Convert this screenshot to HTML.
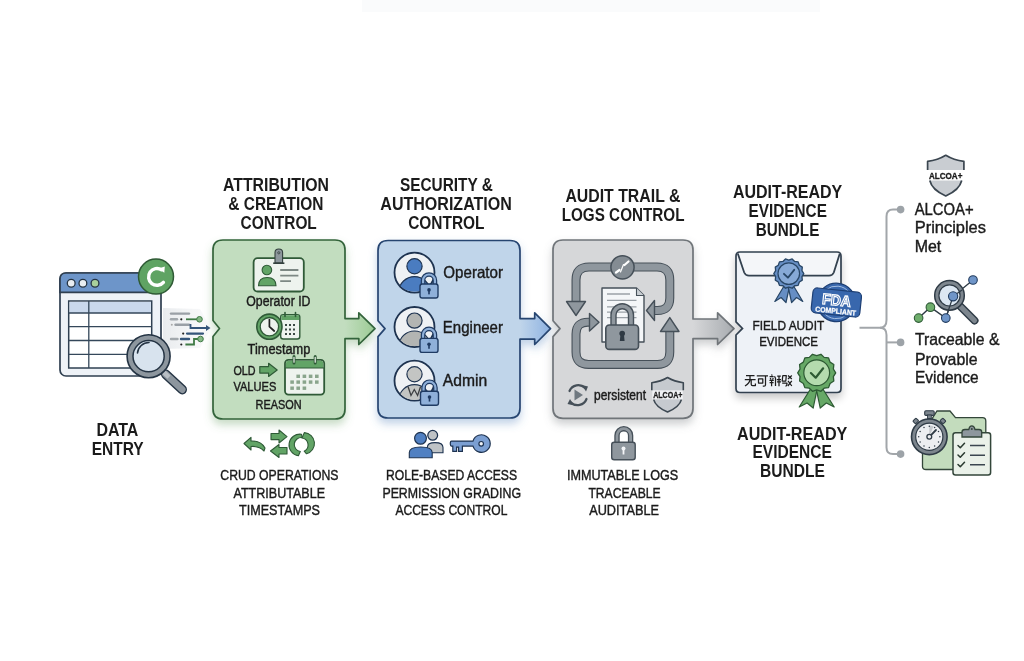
<!DOCTYPE html><html><head><meta charset="utf-8"><style>
html,body{margin:0;padding:0;background:#fff;}
body{width:1024px;height:661px;overflow:hidden;}
svg{display:block;font-family:"Liberation Sans",sans-serif;will-change:transform;}
</style></head><body>
<svg width="1024" height="661" viewBox="0 0 1024 661">
<defs>
<filter id="sh" x="-20%" y="-20%" width="140%" height="150%">
  <feGaussianBlur in="SourceAlpha" stdDeviation="4"/>
  <feOffset dy="5"/>
  <feComponentTransfer><feFuncA type="linear" slope="0.22"/></feComponentTransfer>
  <feMerge><feMergeNode/><feMergeNode in="SourceGraphic"/></feMerge>
</filter>
<filter id="shg" x="-20%" y="-20%" width="140%" height="150%">
  <feGaussianBlur in="SourceAlpha" stdDeviation="4.5"/>
  <feOffset dy="5" result="b"/>
  <feFlood flood-color="#5f9a5a" flood-opacity="0.35"/>
  <feComposite in2="b" operator="in"/>
  <feMerge><feMergeNode/><feMergeNode in="SourceGraphic"/></feMerge>
</filter>
<filter id="shb" x="-20%" y="-20%" width="140%" height="150%">
  <feGaussianBlur in="SourceAlpha" stdDeviation="4.5"/>
  <feOffset dy="5" result="b"/>
  <feFlood flood-color="#4f7fba" flood-opacity="0.35"/>
  <feComposite in2="b" operator="in"/>
  <feMerge><feMergeNode/><feMergeNode in="SourceGraphic"/></feMerge>
</filter>
<filter id="shy" x="-20%" y="-20%" width="140%" height="150%">
  <feGaussianBlur in="SourceAlpha" stdDeviation="4.5"/>
  <feOffset dy="5" result="b"/>
  <feFlood flood-color="#70757a" flood-opacity="0.35"/>
  <feComposite in2="b" operator="in"/>
  <feMerge><feMergeNode/><feMergeNode in="SourceGraphic"/></feMerge>
</filter>
<linearGradient id="gArr" gradientUnits="userSpaceOnUse" x1="345" y1="0" x2="375" y2="0"><stop offset="0" stop-color="#c2ddbf"/><stop offset="1" stop-color="#9ccb94"/></linearGradient>
<linearGradient id="bArr" gradientUnits="userSpaceOnUse" x1="520" y1="0" x2="550" y2="0"><stop offset="0" stop-color="#c0d5ea"/><stop offset="1" stop-color="#8fb3e2"/></linearGradient>
<linearGradient id="yArr" gradientUnits="userSpaceOnUse" x1="693" y1="0" x2="734" y2="0"><stop offset="0" stop-color="#d6d7d9"/><stop offset="1" stop-color="#a8acb0"/></linearGradient>
</defs>
<path d="M223 240 H335 Q345 240 345 250 V318.6 H358.8 V312.8 L375 328.65 L358.8 344.5 V338.7 H345 V409 Q345 419 335 419 H223 Q213 419 213 409 V336.5 L219.5 328.5 L213 320.5 V250 Q213 240 223 240 Z" fill="url(#gArr)" stroke="#33633a" stroke-width="1.7" stroke-linejoin="round" filter="url(#shg)"/>
<path d="M388 240.5 H510 Q520 240.5 520 250.5 V318.6 H534.7 V312.8 L550.5 328.65 L534.7 344.5 V339.2 H520 V408 Q520 418 510 418 H388 Q378 418 378 408 V336.6 L385 328.65 L378 320.7 V250.5 Q378 240.5 388 240.5 Z" fill="url(#bArr)" stroke="#264470" stroke-width="1.7" stroke-linejoin="round" filter="url(#shb)"/>
<path d="M563 240 H683 Q693 240 693 250 V319 H717.6 V312.8 L734 328.65 L717.6 344.5 V338.7 H693 V408.3 Q693 418.3 683 418.3 H563 Q553 418.3 553 408.3 V336.6 L560 328.65 L553 320.7 V250 Q553 240 563 240 Z" fill="url(#yArr)" stroke="#6f7479" stroke-width="1.7" stroke-linejoin="round" filter="url(#shy)"/>
<rect x="362" y="0" width="458" height="12" fill="#fafbfc"/>
<g>
<linearGradient id="stg" x1="0" x2="1"><stop offset="0" stop-color="#e6e9ec" stop-opacity="0.9"/><stop offset="1" stop-color="#eef0f2" stop-opacity="0.3"/></linearGradient><path d="M163 308 L200 309 L211 328.5 L200 348 L163 349 Z" fill="url(#stg)"/>
<path d="M171 313.6 H189" stroke="#9aa0a6" stroke-width="2.4" stroke-linecap="round"/>
<path d="M171 319.3 H177" stroke="#a2a8ad" stroke-width="2.4" stroke-linecap="round"/>
<circle cx="181.3" cy="319.3" r="1.1" fill="#222"/>
<path d="M186 319.3 H197" stroke="#3f7a45" stroke-width="1.8"/>
<circle cx="199.5" cy="319.3" r="2.8" fill="#86b886" stroke="#3f7a45" stroke-width="1"/>
<circle cx="171.8" cy="324.8" r="1" fill="#aaa"/>
<path d="M175.5 324.8 H189" stroke="#9aa0a6" stroke-width="2.4" stroke-linecap="round"/>
<path d="M190.5 324 V328 H207" stroke="#34557a" stroke-width="1.8" fill="none"/>
<path d="M206 325 L210.5 328 L206 331 Z" fill="#34557a"/>
<circle cx="183.2" cy="333.6" r="1.1" fill="#222"/>
<path d="M187 333.6 H203" stroke="#34557a" stroke-width="2.2" stroke-linecap="round"/>
<path d="M171 339 H177.5" stroke="#a2a8ad" stroke-width="2.4" stroke-linecap="round"/>
<path d="M181 339 H189" stroke="#34557a" stroke-width="2.4" stroke-linecap="round"/>
<path d="M185.4 344.5 H194 V339 H198" stroke="#3f7a45" stroke-width="1.8" fill="none"/>
<circle cx="200.5" cy="339" r="2.8" fill="#86b886" stroke="#3f7a45" stroke-width="1"/>
<circle cx="181.3" cy="344.5" r="1.1" fill="#222"/>
</g>
<g>
<rect x="60" y="273" width="101" height="103" rx="6" fill="#eef2f7" stroke="#2f3f50" stroke-width="1.7"/>
<path d="M66 273 H155 Q161 273 161 279 V292.4 H60 V279 Q60 273 66 273 Z" fill="#6d95c9" stroke="#2f3f50" stroke-width="1.7"/>
<circle cx="71.2" cy="283.3" r="3.9" fill="#e9eef2" stroke="#253444" stroke-width="1.3"/>
<circle cx="82.9" cy="283.3" r="3.9" fill="#e9eef2" stroke="#253444" stroke-width="1.3"/>
<circle cx="95" cy="283.3" r="3.9" fill="#a9d09b" stroke="#253444" stroke-width="1.3"/>
<rect x="68.7" y="301" width="83" height="67" fill="#ffffff" stroke="#2f4052" stroke-width="1.5"/>
<rect x="69.6" y="301.9" width="81.2" height="11.1" fill="#c9d8ec"/>
<path d="M68.7 313 H151.7 M68.7 326.6 H151.7 M68.7 340.5 H151.7 M68.7 354.4 H151.7 M88.8 301 V368" stroke="#34475a" stroke-width="1.3" fill="none"/>
</g>
<g>
<circle cx="156" cy="276.6" r="17.5" fill="#5fa363" stroke="#2f5a35" stroke-width="1.5"/>
<path d="M161.5 269.8 A8.4 8.4 0 1 0 163.4 282.3" fill="none" stroke="#ffffff" stroke-width="3.4" stroke-linecap="round"/>
<path d="M158.5 268.4 L164.8 266.4 L164.3 272.8 Z" fill="#ffffff"/>
</g>
<g>
<path d="M165.7 374.2 L182.2 389.6" stroke="#253444" stroke-width="9.6" stroke-linecap="round"/>
<path d="M165.7 374.2 L182.2 389.6" stroke="#8d969e" stroke-width="6.8" stroke-linecap="round"/>
<path d="M164 372.5 L169 377.2" stroke="#b8bec4" stroke-width="4.5"/>
<circle cx="148.6" cy="356.2" r="21.5" fill="#8d969e" stroke="#253444" stroke-width="1.6"/>
<circle cx="148.6" cy="356.2" r="15.6" fill="#d8e3ee" stroke="#253444" stroke-width="1.5"/>
<path d="M137.5 353 A11.5 11.5 0 0 1 149 342.5" fill="none" stroke="#253444" stroke-width="1.6" stroke-linecap="round"/>
</g>
<g>
<rect x="253.6" y="258.2" width="50.2" height="33.3" rx="4" fill="#eef3ee" stroke="#2f5a37" stroke-width="1.8"/>
<path d="M275 263 V252.5 Q275 249 278.8 249 Q282.6 249 282.6 252.5 V263 Z" fill="#8d979c" stroke="#33403d" stroke-width="1.1"/>
<path d="M273.2 263.2 H284.4" stroke="#33403d" stroke-width="1.6"/>
<circle cx="278.8" cy="252.8" r="1.1" fill="none" stroke="#33403d" stroke-width="0.8"/>
<circle cx="266.9" cy="270" r="4.8" fill="#62a466" stroke="#2f5a37" stroke-width="1.1"/>
<path d="M258.5 285.8 Q258.5 277.5 267.2 277.5 Q276 277.5 276 285.8 Z" fill="#62a466" stroke="#2f5a37" stroke-width="1.1"/>
<path d="M280.2 270 H298.4 M280.2 275.7 H298.4 M280.2 281.2 H291" stroke="#7d8884" stroke-width="1.8"/>
</g>
<g>
<rect x="280.7" y="314.6" width="19.1" height="24.4" rx="2.5" fill="#eef3ee" stroke="#2f5a37" stroke-width="1.4"/>
<path d="M281.4 315.3 H299.1 V320 H281.4 Z" fill="#62a466"/>
<path d="M285 312.5 V316.5 M295.5 312.5 V316.5" stroke="#2f5a37" stroke-width="1.6" stroke-linecap="round"/>
<g fill="#3c4a44">
<rect x="285" y="324" width="2" height="2"/><rect x="289" y="324" width="2" height="2"/><rect x="293" y="324" width="2" height="2"/>
<rect x="285" y="328.5" width="2" height="2"/><rect x="289" y="328.5" width="2" height="2"/><rect x="293" y="328.5" width="2" height="2"/>
<rect x="285" y="333" width="2" height="2"/><rect x="289" y="333" width="2" height="2"/><rect x="293" y="333" width="2" height="2"/>
</g>
<circle cx="269.4" cy="326.7" r="12.6" fill="#62a466" stroke="#2f5a37" stroke-width="1.6"/>
<circle cx="269.4" cy="326.7" r="9.2" fill="#eef3ee" stroke="#2f5a37" stroke-width="1.3"/>
<path d="M269.4 319.5 V326.7 L274.2 331" fill="none" stroke="#222" stroke-width="1.7" stroke-linecap="round"/>
</g>
<path d="M259.8 366.6 H268.6 V363.3 L277.2 369.9 L268.6 376.4 V373.1 H259.8 Z" fill="#62a466" stroke="#2f5a37" stroke-width="1.2" stroke-linejoin="round"/>
<g>
<rect x="285" y="359.8" width="39.2" height="34.8" rx="3.5" fill="#eef3ee" stroke="#2f5a37" stroke-width="1.8"/>
<path d="M286 368 V363.3 Q286 360.8 288.5 360.8 H320.7 Q323.2 360.8 323.2 363.3 V368 Z" fill="#62a466"/>
<path d="M285 368 H324.2" stroke="#2f5a37" stroke-width="1.2"/>
<path d="M294 356.5 V363 M315.2 356.5 V363" stroke="#2f5a37" stroke-width="3" stroke-linecap="round"/>
<path d="M294 357.3 V362.2 M315.2 357.3 V362.2" stroke="#eef3ee" stroke-width="1.2" stroke-linecap="round"/>
<g fill="#8aa58c">
<rect x="296.4" y="374.6" width="3.6" height="3.4"/><rect x="302.6" y="374.6" width="3.6" height="3.4"/><rect x="308.8" y="374.6" width="3.6" height="3.4"/><rect x="315" y="374.6" width="3.6" height="3.4"/>
<rect x="290.3" y="380.4" width="3.6" height="3.4"/><rect x="296.4" y="380.4" width="3.6" height="3.4"/><rect x="302.6" y="380.4" width="3.6" height="3.4"/><rect x="308.8" y="380.4" width="3.6" height="3.4"/><rect x="315" y="380.4" width="3.6" height="3.4"/>
<rect x="290.3" y="386.5" width="3.6" height="3.4"/><rect x="296.4" y="386.5" width="3.6" height="3.4"/><rect x="302.6" y="386.5" width="3.6" height="3.4"/>
</g>
</g>
<g fill="#62a466" stroke="#2f5a37" stroke-width="1.1" stroke-linejoin="round">
<path d="M244 443.5 L251 437.3 V441 Q261 440.5 265 448 L264 451 Q259 445.8 251 446.5 V450 Z"/>
<path d="M271 433.5 H279 V430 L287 436.6 L279 443 V439.6 H271 Z"/>
<path d="M287 447.5 H279 V444.5 L270.5 451 L279 457.5 V454 H287 Z"/>
<path d="M301.5 434.2 A10.4 10.4 0 0 0 298.4 455.8 L300.3 451.5 A7 7 0 0 1 302.2 437.6 Z"/>
<path d="M304.3 432.6 A10.8 10.8 0 0 1 306.5 453.8 L304.2 451.2 A7 7 0 0 0 302 438 Z"/>
</g>
<g>
<clipPath id="cl272"><circle cx="414.5" cy="272.6" r="19.2"/></clipPath>
<circle cx="414.5" cy="272.6" r="20" fill="#eef1f4" stroke="#1e3350" stroke-width="1.8"/>
<g clip-path="url(#cl272)">
<ellipse cx="414.5" cy="291.6" rx="15.5" ry="15" fill="#4a7cc0" stroke="#1e3350" stroke-width="1.2"/>
</g>
<circle cx="414.5" cy="266.20000000000005" r="7.6" fill="#4a7cc0" stroke="#1e3350" stroke-width="1.2"/>
</g>
<g>
<path d="M423.06 285 V280.44 A5.94 5.94 0 0 1 434.94 280.44 V285" fill="none" stroke="#1f3b63" stroke-width="4.6"/>
<path d="M423.06 285 V280.44 A5.94 5.94 0 0 1 434.94 280.44 V285" fill="none" stroke="#8fb0d9" stroke-width="2.2"/>
<rect x="420" y="284" width="18" height="14" rx="2.2" fill="#8fb0d9" stroke="#1f3b63" stroke-width="1.4"/>
<circle cx="429.0" cy="289.88" r="1.8" fill="#1f3b63"/>
<rect x="428.19" y="289.88" width="1.6199999999999999" height="4.48" fill="#1f3b63"/>
</g>
<g>
<clipPath id="cl327"><circle cx="414.5" cy="327" r="19.2"/></clipPath>
<circle cx="414.5" cy="327" r="20" fill="#eef1f4" stroke="#1e3350" stroke-width="1.8"/>
<g clip-path="url(#cl327)">
<ellipse cx="414.5" cy="346" rx="15.5" ry="15" fill="#b3b5b3" stroke="#1e3350" stroke-width="1.2"/>
</g>
<circle cx="414.5" cy="320.6" r="7.6" fill="#b3b5b3" stroke="#1e3350" stroke-width="1.2"/>
</g>
<g>
<path d="M423.06 339.4 V334.84 A5.94 5.94 0 0 1 434.94 334.84 V339.4" fill="none" stroke="#1f3b63" stroke-width="4.6"/>
<path d="M423.06 339.4 V334.84 A5.94 5.94 0 0 1 434.94 334.84 V339.4" fill="none" stroke="#8fb0d9" stroke-width="2.2"/>
<rect x="420" y="338.4" width="18" height="14" rx="2.2" fill="#8fb0d9" stroke="#1f3b63" stroke-width="1.4"/>
<circle cx="429.0" cy="344.28" r="1.8" fill="#1f3b63"/>
<rect x="428.19" y="344.28" width="1.6199999999999999" height="4.48" fill="#1f3b63"/>
</g>
<g>
<clipPath id="cl380"><circle cx="414.5" cy="380.7" r="19.2"/></clipPath>
<circle cx="414.5" cy="380.7" r="20" fill="#eef1f4" stroke="#1e3350" stroke-width="1.8"/>
<g clip-path="url(#cl380)">
<ellipse cx="414.5" cy="399.7" rx="15.5" ry="15" fill="#c3c5c3" stroke="#1e3350" stroke-width="1.2"/>
</g>
<circle cx="414.5" cy="374.3" r="7.6" fill="#c3c5c3" stroke="#1e3350" stroke-width="1.2"/>
<path d="M408 386.5 L411 395.5 L414.3 389.5 L417.6 395.5 L420.6 386.5" fill="none" stroke="#3c3f42" stroke-width="1.3"/></g>
<g>
<path d="M423.56 392.2 V387.64 A5.94 5.94 0 0 1 435.44 387.64 V392.2" fill="none" stroke="#1f3b63" stroke-width="4.6"/>
<path d="M423.56 392.2 V387.64 A5.94 5.94 0 0 1 435.44 387.64 V392.2" fill="none" stroke="#8fb0d9" stroke-width="2.2"/>
<rect x="420.5" y="391.2" width="18" height="14" rx="2.2" fill="#8fb0d9" stroke="#1f3b63" stroke-width="1.4"/>
<circle cx="429.5" cy="397.08" r="1.8" fill="#1f3b63"/>
<rect x="428.69" y="397.08" width="1.6199999999999999" height="4.48" fill="#1f3b63"/>
</g>
<g stroke="#1e3350" stroke-width="1.1">
<circle cx="432.7" cy="435.3" r="4.9" fill="#bfc3c6" stroke-width="1.3"/>
<path d="M427.3 452.8 V447.5 Q427.3 442.6 435 442.6 Q443 442.6 443 447.5 V452.8 Z" fill="#bfc3c6"/>
<circle cx="420.5" cy="438.3" r="5.9" fill="#5080c2" stroke-width="1.2"/>
<path d="M409.3 457.7 V452.5 Q409.3 447 420.8 447 Q432.2 447 432.2 452.5 V457.7 Z" fill="#5080c2"/>
</g>
<g stroke="#1e3350" stroke-width="1.2" fill="#7b9fd2">
<path d="M451.5 441.1 H473 A8.8 8.8 0 1 1 473 446.1 H462.4 V451.4 H458.6 V447.2 H456.6 V451.4 H452.8 V446.1 H451.5 Q450.3 446.1 450.3 443.6 Q450.3 441.1 451.5 441.1 Z"/>
<circle cx="481.2" cy="443.8" r="2.3" fill="#eef2f6"/>
</g>
<path d="M576 303 V280 Q576 267 589 267 H657 Q669.8 267 669.8 280 V298 Q669.8 310.5 657.5 310.5 H652" fill="none" stroke="#465059" stroke-width="9" stroke-linejoin="round"/>
<path d="M576 303 V280 Q576 267 589 267 H657 Q669.8 267 669.8 280 V298 Q669.8 310.5 657.5 310.5 H652" fill="none" stroke="#8f979e" stroke-width="6.8" stroke-linejoin="round"/>
<path d="M566.5 301.5 H585.5 L576 315.5 Z" fill="#8f979e" stroke="#465059" stroke-width="1.4" stroke-linejoin="round"/>
<path d="M654.5 300.5 V320.5 L646.5 310.5 Z" fill="#8f979e" stroke="#465059" stroke-width="1.4" stroke-linejoin="round"/>
<path d="M592 322.2 H588 Q576 322.2 576 334 V352 Q576 364.4 588.5 364.4 H657.5 Q669.8 364.4 669.8 352 V330" fill="none" stroke="#465059" stroke-width="9" stroke-linejoin="round"/>
<path d="M592 322.2 H588 Q576 322.2 576 334 V352 Q576 364.4 588.5 364.4 H657.5 Q669.8 364.4 669.8 352 V330" fill="none" stroke="#8f979e" stroke-width="6.8" stroke-linejoin="round"/>
<path d="M589.5 313.5 L599 322.2 L589.5 331 Z" fill="#8f979e" stroke="#465059" stroke-width="1.4" stroke-linejoin="round"/>
<path d="M660.5 331.5 L669.8 317.6 L679 331.5 Z" fill="#8f979e" stroke="#465059" stroke-width="1.4" stroke-linejoin="round"/>
<g>
<circle cx="622.5" cy="267.3" r="11.6" fill="#848c93" stroke="#465059" stroke-width="1.5"/>
<path d="M616 272.5 L619.5 270 M624.5 265 L628.5 261.5" stroke="#ffffff" stroke-width="2.2" stroke-linecap="round"/>
<path d="M620.5 272 L623.5 264.5" stroke="#ffffff" stroke-width="1.2" stroke-linecap="round"/>
</g>
<g>
<path d="M602 288 H636.5 L644 295.5 V342 H602 Z" fill="#f4f6f8" stroke="#465059" stroke-width="1.4" stroke-linejoin="round"/>
<path d="M636.5 288 V295.5 H644" fill="#c9ced3" stroke="#465059" stroke-width="1.1" stroke-linejoin="round"/>
<path d="M607 294 H630 M607 300.4 H636.5 M607 306.8 H636.5 M607 312.2 H636.5 M607 317.6 H636.5" stroke="#9aa1a7" stroke-width="1.3"/>
<path d="M613.5 326 V315 A8.7 8.7 0 0 1 631 315 V326" fill="none" stroke="#465059" stroke-width="6.4"/>
<path d="M613.5 326 V315 A8.7 8.7 0 0 1 631 315 V326" fill="none" stroke="#8f979e" stroke-width="3.6"/>
<rect x="605.8" y="325" width="32.7" height="24.4" rx="3.5" fill="#8f979e" stroke="#465059" stroke-width="1.6"/>
<circle cx="622.2" cy="333.5" r="2.8" fill="#2f3a44"/>
<path d="M620.5 334 L619.8 341 H624.6 L623.9 334 Z" fill="#2f3a44"/>
</g>
<g>
<path d="M569.5 391 A9.5 9.5 0 0 1 585 388" fill="none" stroke="#465059" stroke-width="2.2" stroke-linecap="round"/>
<path d="M586.5 399 A9.5 9.5 0 0 1 571 402.5" fill="none" stroke="#465059" stroke-width="2.2" stroke-linecap="round"/>
<path d="M582 385 L588 386.5 L586 391.5 Z" fill="#465059"/>
<path d="M574 405.5 L567.5 404 L570 399 Z" fill="#465059"/>
<path d="M574.5 389.5 V400.5 L583 395 Z" fill="#6f7880"/>
</g>
<rect x="652.3" y="390.2" width="30.5" height="9.2" fill="#f1f2f4"/>
<path d="M651.8 390.265 V382.675 Q660.62 381.64 667.55 377.5 Q674.4799999999999 381.64 683.3 382.675 V390.265 Z" fill="#c6cacf"/><path d="M651.8 390.265 V382.675 Q660.62 381.64 667.55 377.5 Q674.4799999999999 381.64 683.3 382.675 V390.265" fill="none" stroke="#3d4852" stroke-width="1.6" stroke-linejoin="round"/><path d="M653.6899999999999 399.58 Q655.5799999999999 406.825 667.55 412.0 Q679.52 406.825 681.41 399.58 Z" fill="#c6cacf"/><path d="M653.6899999999999 399.58 Q655.5799999999999 406.825 667.55 412.0 Q679.52 406.825 681.41 399.58" fill="none" stroke="#3d4852" stroke-width="1.6" stroke-linejoin="round"/>
<g>
<path d="M617 443 V435.5 A6.8 6.8 0 0 1 630.6 435.5 V443" fill="none" stroke="#465059" stroke-width="5.4"/>
<path d="M617 443 V435.5 A6.8 6.8 0 0 1 630.6 435.5 V443" fill="none" stroke="#8f979e" stroke-width="2.8"/>
<rect x="611.7" y="442.2" width="23.5" height="17.5" rx="2.5" fill="#8f979e" stroke="#465059" stroke-width="1.4"/>
<circle cx="623.5" cy="448.5" r="2" fill="#f4f6f8"/>
<rect x="622.6" y="448.5" width="1.8" height="6" fill="#f4f6f8"/>
</g>
<g filter="url(#sh)">
<path d="M740 252 H837 Q841 252 841 256 V388.5 Q841 392.5 837 392.5 H740 Q736 392.5 736 388.5 V335 L742.5 328.4 L736 321.8 V256 Q736 252 740 252 Z" fill="#eef2f7" stroke="#33414f" stroke-width="1.7"/>
</g>
<path d="M737.8 253.5 L744.2 272.5 Q745.5 275.6 749 275.6 H829 Q832.5 275.6 833.8 272.5 L839.8 253.5" fill="#f4f6f9" stroke="#33414f" stroke-width="1.8" stroke-linejoin="round"/>

<g>
<path d="M785.8 283 L774.8 301.5 L781.0999999999999 297.5 L786.0 302.5 L789.8 285 Z" fill="#668ec4" stroke="#284666" stroke-width="1.2" stroke-linejoin="round"/>
<path d="M791.8 283 L802.8 301.5 L796.5 297.5 L791.5999999999999 302.5 L787.8 285 Z" fill="#668ec4" stroke="#284666" stroke-width="1.2" stroke-linejoin="round"/>
<path d="M803.80 273.60 L801.96 276.60 L802.31 280.11 L799.35 282.02 L798.15 285.33 L794.66 285.76 L792.14 288.22 L788.80 287.10 L785.46 288.22 L782.94 285.76 L779.45 285.33 L778.25 282.02 L775.29 280.11 L775.64 276.60 L773.80 273.60 L775.64 270.60 L775.29 267.09 L778.25 265.18 L779.45 261.87 L782.94 261.44 L785.46 258.98 L788.80 260.10 L792.14 258.98 L794.66 261.44 L798.15 261.87 L799.35 265.18 L802.31 267.09 L801.96 270.60 Z" fill="#668ec4" stroke="#284666" stroke-width="1.3" stroke-linejoin="round"/>
<circle cx="788.8" cy="273.6" r="10.8" fill="#86a9d6" stroke="#284666" stroke-width="1.2"/>
<path d="M783.9399999999999 273.81600000000003 L787.9359999999999 277.704 L794.1999999999999 269.82000000000005" fill="none" stroke="#284666" stroke-width="1.84" stroke-linecap="round" stroke-linejoin="round"/>
</g>
<g transform="rotate(6 836.4 302.2)">
<circle cx="836.4" cy="302.4" r="19.2" fill="#3867ad" stroke="#1d3f74" stroke-width="1.3"/>
<circle cx="836.4" cy="302.4" r="16.3" fill="none" stroke="#a9c2e6" stroke-width="0.9"/>
<rect x="812" y="290" width="48.8" height="25" rx="4.5" fill="#3867ad" stroke="#1d3f74" stroke-width="1.2"/>
<text x="836.4" y="305.3" font-size="15" font-weight="bold" fill="#3867ad" stroke="#ffffff" stroke-width="1.2" text-anchor="middle" textLength="29" lengthAdjust="spacingAndGlyphs">FDA</text>
<text x="836.6" y="313.6" font-size="7.4" font-weight="bold" fill="#ffffff" stroke="#ffffff" stroke-width="0.25" text-anchor="middle" textLength="41" lengthAdjust="spacingAndGlyphs">COMPLIANT</text>
</g>
<g>
<path d="M813.7 384 L799.2 407 L807.075 403 L813.2 408 L817.7 386 Z" fill="#66a866" stroke="#2d5a33" stroke-width="1.2" stroke-linejoin="round"/>
<path d="M819.7 384 L834.2 407 L826.325 403 L820.2 408 L815.7 386 Z" fill="#66a866" stroke="#2d5a33" stroke-width="1.2" stroke-linejoin="round"/>
<path d="M835.70 372.80 L833.37 376.61 L833.82 381.04 L830.07 383.46 L828.55 387.65 L824.12 388.21 L820.93 391.32 L816.70 389.90 L812.47 391.32 L809.28 388.21 L804.85 387.65 L803.33 383.46 L799.58 381.04 L800.03 376.61 L797.70 372.80 L800.03 368.99 L799.58 364.56 L803.33 362.14 L804.85 357.95 L809.28 357.39 L812.47 354.28 L816.70 355.70 L820.93 354.28 L824.12 357.39 L828.55 357.95 L830.07 362.14 L833.82 364.56 L833.37 368.99 Z" fill="#66a866" stroke="#2d5a33" stroke-width="1.3" stroke-linejoin="round"/>
<circle cx="816.7" cy="372.8" r="12.9" fill="#b4dbae" stroke="#2d5a33" stroke-width="1.2"/>
<path d="M810.8950000000001 373.058 L815.668 377.702 L823.1500000000001 368.285" fill="none" stroke="#2d5a33" stroke-width="2.19" stroke-linecap="round" stroke-linejoin="round"/>
</g>
<g fill="none" stroke="#1e1e1e" stroke-width="1.25" stroke-linecap="butt" stroke-linejoin="round">
<!-- 无 x 744.5-755.5 -->
<path d="M746 375.5 H754.5 M744.8 379.6 H755.6 M750 375.5 V379.6 Q749.8 383 745 386 M751.2 379.6 V384.3 Q751.2 385.6 752.6 385.6 H755.4 V383.6"/>
<!-- 可 x 756.8-768 -->
<path d="M756.8 375.8 H768 M765.5 375.8 V385 Q765.5 386.2 764 386.2 H762.8 M758.5 378.8 H762.8 V383 H758.5 Z"/>
<!-- 辩 x 769.5-780.8 -->
<path d="M771.5 374.5 L772.3 375.6 M769.6 376.6 H773.6 M770.2 378 L771 379.5 M773.3 378 L772.5 379.5 M769.4 380.3 H773.8 M769.6 382.5 H773.6 M771.6 380.3 V386.2"/>
<path d="M774.5 376.2 L775.5 378.2 V386 M777.2 376 H780.8 M776.8 379.5 H781 M779 376 V386.2 M777 381.8 H781"/>
<!-- 驳 x 782-792 -->
<path d="M782.5 375.5 H786.3 L785.8 381 H782.2 L782.8 375.5 M782.2 383.2 H787 Q787 386 785.5 386"/>
<path d="M788 375.5 L791.8 379 M791.8 375.5 L788 379 M788 380.8 L791.8 386 M791.8 380.8 L787.8 386"/>
</g>
<g fill="none" stroke="#a2a6aa" stroke-width="2">
<path d="M859.5 327.7 H880 Q886.5 327.7 886.5 320 V216.5 Q886.5 209.6 893 209.6 H900"/>
<path d="M880 327.7 Q886.5 327.7 886.5 335 V447.5 Q886.5 454.1 893 454.1 H900"/>
<path d="M886.5 342.4 H900"/>
</g>
<g fill="#9da3a8">
<circle cx="900.6" cy="209.6" r="3.8"/>
<circle cx="900.6" cy="342.4" r="3.8"/>
<circle cx="900.6" cy="454.1" r="3.8"/>
</g>
<path d="M927.6 169.952 V161.405 Q937.764 160.18400000000003 945.75 155.3 Q953.736 160.18400000000003 963.9 161.405 V169.952 Z" fill="#c9cdd2"/><path d="M927.6 169.952 V161.405 Q937.764 160.18400000000003 945.75 155.3 Q953.736 160.18400000000003 963.9 161.405 V169.952" fill="none" stroke="#3b4650" stroke-width="1.7" stroke-linejoin="round"/><path d="M929.778 180.53400000000002 Q931.956 189.895 945.75 196.0 Q959.544 189.895 961.722 180.53400000000002 Z" fill="#c9cdd2"/><path d="M929.778 180.53400000000002 Q931.956 189.895 945.75 196.0 Q959.544 189.895 961.722 180.53400000000002" fill="none" stroke="#3b4650" stroke-width="1.7" stroke-linejoin="round"/>
<g>
<path d="M918.6 318.1 L930.4 307.2 L945.8 318.1 L953.1 296.3 L973 280" fill="none" stroke="#2f3b46" stroke-width="1.4"/>
<path d="M959 305 L974.5 320.5" stroke="#2f3b46" stroke-width="8" stroke-linecap="round"/>
<path d="M959 305 L974.5 320.5" stroke="#7d868e" stroke-width="5.2" stroke-linecap="round"/>
<circle cx="949.5" cy="295.4" r="14.8" fill="#7d868e" stroke="#2f3b46" stroke-width="1.5"/>
<circle cx="949.5" cy="295.4" r="10.6" fill="#dce7f2" stroke="#2f3b46" stroke-width="1.2"/>
<path d="M945.8 318.1 L953.1 296.3 L962 290" fill="none" stroke="#2f3b46" stroke-width="1.3"/>
<circle cx="918.6" cy="318.1" r="4.3" fill="#6fae6c" stroke="#2f5a37" stroke-width="1.1"/>
<circle cx="930.4" cy="307.2" r="4.3" fill="#6fae6c" stroke="#2f5a37" stroke-width="1.1"/>
<circle cx="945.8" cy="318.1" r="4.3" fill="#6f95c8" stroke="#223c5e" stroke-width="1.1"/>
<circle cx="953.1" cy="296.3" r="4.6" fill="#6f95c8" stroke="#223c5e" stroke-width="1.1"/>
<circle cx="973" cy="280" r="4.3" fill="#6f95c8" stroke="#223c5e" stroke-width="1.1"/>
</g>
<g>
<path d="M937 411 H950 L955.5 417.7 H982.5 Q985.8 417.7 985.8 421 V466.5 Q985.8 469.5 982.5 469.5 H926 Q922.5 469.5 922.5 466.5 V440 L930 422 Z" fill="#c3dcbd" stroke="#33463a" stroke-width="1.3"/>
<rect x="953" y="432.7" width="37.6" height="42.3" rx="2.5" fill="#eaf1e9" stroke="#33463a" stroke-width="1.5"/>
<path d="M962 437 V432 Q962 429.5 965 429.5 H968.8 Q969.5 425.9 971.8 425.9 Q974.2 425.9 975 429.5 H979 Q981.7 429.5 981.7 432 V437 Z" fill="#8d969d" stroke="#33463a" stroke-width="1.3"/>
<circle cx="971.8" cy="429" r="1" fill="#33463a"/>
<path d="M958 445.5 L960.3 447.8 L964.5 443.2 M958 455 L960.3 457.3 L964.5 452.7 M958 464.5 L960.3 466.8 L964.5 462.2" fill="none" stroke="#2a3a30" stroke-width="1.5" stroke-linecap="round" stroke-linejoin="round"/>
<path d="M970 445.6 H985 M970 455.2 H985 M970 464.7 H985" stroke="#3b4650" stroke-width="1.5"/>
<rect x="924.7" y="410.8" width="9.5" height="4.6" rx="1.2" fill="#7d868e" stroke="#2f3b46" stroke-width="1.1"/>
<rect x="927.5" y="415" width="3.8" height="3.5" fill="#7d868e" stroke="#2f3b46" stroke-width="0.9"/>
<rect x="913.5" y="419" width="4.5" height="4" rx="0.8" transform="rotate(-45 915.7 421)" fill="#7d868e" stroke="#2f3b46" stroke-width="1"/>
<rect x="940.7" y="419" width="4.5" height="4" rx="0.8" transform="rotate(45 943 421)" fill="#7d868e" stroke="#2f3b46" stroke-width="1"/>
<circle cx="929.3" cy="436.8" r="17.8" fill="#7d868e" stroke="#2f3b46" stroke-width="1.6"/>
<circle cx="929.3" cy="436.8" r="13.6" fill="#eceef1" stroke="#2f3b46" stroke-width="1.2"/>
<path d="M929.3 436.8 V425.5 A11.3 11.3 0 0 1 933.6 426.3 Z" fill="#c5c9cd"/><circle cx="929.30" cy="426.20" r="0.75" fill="#2f3b46"/><circle cx="934.60" cy="427.62" r="0.75" fill="#2f3b46"/><circle cx="938.48" cy="431.50" r="0.75" fill="#2f3b46"/><circle cx="939.90" cy="436.80" r="0.75" fill="#2f3b46"/><circle cx="938.48" cy="442.10" r="0.75" fill="#2f3b46"/><circle cx="934.60" cy="445.98" r="0.75" fill="#2f3b46"/><circle cx="929.30" cy="447.40" r="0.75" fill="#2f3b46"/><circle cx="924.00" cy="445.98" r="0.75" fill="#2f3b46"/><circle cx="920.12" cy="442.10" r="0.75" fill="#2f3b46"/><circle cx="918.70" cy="436.80" r="0.75" fill="#2f3b46"/><circle cx="920.12" cy="431.50" r="0.75" fill="#2f3b46"/><circle cx="924.00" cy="427.62" r="0.75" fill="#2f3b46"/>
<path d="M929.3 436.8 L936 430" stroke="#2f3b46" stroke-width="1.8" stroke-linecap="round"/>
<circle cx="929.3" cy="436.8" r="2.4" fill="#eceef1" stroke="#2f3b46" stroke-width="1.3"/>
</g>
<text x="223" y="191" font-size="18" font-weight="bold" fill="#1b1b1b" textLength="106.0" lengthAdjust="spacingAndGlyphs" >ATTRIBUTION</text>
<text x="228.3" y="210" font-size="18" font-weight="bold" fill="#1b1b1b" textLength="95.1" lengthAdjust="spacingAndGlyphs" >&amp; CREATION</text>
<text x="240.6" y="229" font-size="18" font-weight="bold" fill="#1b1b1b" textLength="76.2" lengthAdjust="spacingAndGlyphs" >CONTROL</text>
<text x="399.9" y="191" font-size="18" font-weight="bold" fill="#1b1b1b" textLength="92.9" lengthAdjust="spacingAndGlyphs" >SECURITY &amp;</text>
<text x="380.3" y="210" font-size="18" font-weight="bold" fill="#1b1b1b" textLength="131.6" lengthAdjust="spacingAndGlyphs" >AUTHORIZATION</text>
<text x="408.2" y="229" font-size="18" font-weight="bold" fill="#1b1b1b" textLength="76.3" lengthAdjust="spacingAndGlyphs" >CONTROL</text>
<text x="565.4" y="201.7" font-size="18" font-weight="bold" fill="#1b1b1b" textLength="115.0" lengthAdjust="spacingAndGlyphs" >AUDIT TRAIL &amp;</text>
<text x="561.7" y="220.7" font-size="18" font-weight="bold" fill="#1b1b1b" textLength="122.8" lengthAdjust="spacingAndGlyphs" >LOGS CONTROL</text>
<text x="732.9" y="198" font-size="17.5" font-weight="bold" fill="#1b1b1b" textLength="109.4" lengthAdjust="spacingAndGlyphs" >AUDIT-READY</text>
<text x="748.5" y="216.7" font-size="17.5" font-weight="bold" fill="#1b1b1b" textLength="78.4" lengthAdjust="spacingAndGlyphs" >EVIDENCE</text>
<text x="755.8" y="235.8" font-size="17.5" font-weight="bold" fill="#1b1b1b" textLength="63.5" lengthAdjust="spacingAndGlyphs" >BUNDLE</text>
<text x="96.4" y="436.2" font-size="19" font-weight="bold" fill="#1b1b1b" textLength="42.0" lengthAdjust="spacingAndGlyphs" >DATA</text>
<text x="91.7" y="454.9" font-size="19" font-weight="bold" fill="#1b1b1b" textLength="52.0" lengthAdjust="spacingAndGlyphs" >ENTRY</text>
<text x="737" y="440" font-size="17.5" font-weight="bold" fill="#1b1b1b" textLength="110.4" lengthAdjust="spacingAndGlyphs" >AUDIT-READY</text>
<text x="752.5" y="458.2" font-size="17.5" font-weight="bold" fill="#1b1b1b" textLength="79.4" lengthAdjust="spacingAndGlyphs" >EVIDENCE</text>
<text x="760" y="477.4" font-size="17.5" font-weight="bold" fill="#1b1b1b" textLength="64.9" lengthAdjust="spacingAndGlyphs" >BUNDLE</text>
<text x="220.3" y="480.3" font-size="15" font-weight="normal" fill="#1b1b1b" textLength="118.2" lengthAdjust="spacingAndGlyphs"  stroke="#1b1b1b" stroke-width="0.42">CRUD OPERATIONS</text>
<text x="233.5" y="497.6" font-size="15" font-weight="normal" fill="#1b1b1b" textLength="91.5" lengthAdjust="spacingAndGlyphs"  stroke="#1b1b1b" stroke-width="0.42">ATTRIBUTABLE</text>
<text x="239" y="514.7" font-size="15" font-weight="normal" fill="#1b1b1b" textLength="81.0" lengthAdjust="spacingAndGlyphs"  stroke="#1b1b1b" stroke-width="0.42">TIMESTAMPS</text>
<text x="385.9" y="480.4" font-size="15" font-weight="normal" fill="#1b1b1b" textLength="131.1" lengthAdjust="spacingAndGlyphs"  stroke="#1b1b1b" stroke-width="0.42">ROLE-BASED ACCESS</text>
<text x="382.4" y="497.9" font-size="15" font-weight="normal" fill="#1b1b1b" textLength="138.6" lengthAdjust="spacingAndGlyphs"  stroke="#1b1b1b" stroke-width="0.42">PERMISSION GRADING</text>
<text x="395.4" y="515.3" font-size="15" font-weight="normal" fill="#1b1b1b" textLength="112.0" lengthAdjust="spacingAndGlyphs"  stroke="#1b1b1b" stroke-width="0.42">ACCESS CONTROL</text>
<text x="566.9" y="480.4" font-size="15" font-weight="normal" fill="#1b1b1b" textLength="111.3" lengthAdjust="spacingAndGlyphs"  stroke="#1b1b1b" stroke-width="0.42">IMMUTABLE LOGS</text>
<text x="588.4" y="497.9" font-size="15" font-weight="normal" fill="#1b1b1b" textLength="72.3" lengthAdjust="spacingAndGlyphs"  stroke="#1b1b1b" stroke-width="0.42">TRACEABLE</text>
<text x="589.2" y="515.3" font-size="15" font-weight="normal" fill="#1b1b1b" textLength="69.8" lengthAdjust="spacingAndGlyphs"  stroke="#1b1b1b" stroke-width="0.42">AUDITABLE</text>
<text x="914.7" y="215.2" font-size="16.5" font-weight="normal" fill="#1b1b1b" textLength="58.9" lengthAdjust="spacingAndGlyphs"  stroke="#1b1b1b" stroke-width="0.4">ALCOA+</text>
<text x="914.7" y="233.2" font-size="16.5" font-weight="normal" fill="#1b1b1b" textLength="71.3" lengthAdjust="spacingAndGlyphs"  stroke="#1b1b1b" stroke-width="0.4">Principles</text>
<text x="914.7" y="252.3" font-size="16.5" font-weight="normal" fill="#1b1b1b" textLength="26.6" lengthAdjust="spacingAndGlyphs"  stroke="#1b1b1b" stroke-width="0.4">Met</text>
<text x="915" y="345.3" font-size="16.5" font-weight="normal" fill="#1b1b1b" textLength="84.4" lengthAdjust="spacingAndGlyphs"  stroke="#1b1b1b" stroke-width="0.4">Traceable &amp;</text>
<text x="915" y="365.3" font-size="16.5" font-weight="normal" fill="#1b1b1b" textLength="62.6" lengthAdjust="spacingAndGlyphs"  stroke="#1b1b1b" stroke-width="0.4">Provable</text>
<text x="915" y="382.5" font-size="16.5" font-weight="normal" fill="#1b1b1b" textLength="63.5" lengthAdjust="spacingAndGlyphs"  stroke="#1b1b1b" stroke-width="0.4">Evidence</text>
<text x="246.3" y="306" font-size="14" font-weight="normal" fill="#1b1b1b" textLength="64.2" lengthAdjust="spacingAndGlyphs"  stroke="#1b1b1b" stroke-width="0.42">Operator ID</text>
<text x="247.6" y="354.1" font-size="14" font-weight="normal" fill="#1b1b1b" textLength="62.7" lengthAdjust="spacingAndGlyphs"  stroke="#1b1b1b" stroke-width="0.42">Timestamp</text>
<text x="233.4" y="374.6" font-size="13" font-weight="normal" fill="#1b1b1b" textLength="22.1" lengthAdjust="spacingAndGlyphs"  stroke="#1b1b1b" stroke-width="0.42">OLD</text>
<text x="233.4" y="391.2" font-size="13" font-weight="normal" fill="#1b1b1b" textLength="42.9" lengthAdjust="spacingAndGlyphs"  stroke="#1b1b1b" stroke-width="0.42">VALUES</text>
<text x="255.5" y="409.4" font-size="13" font-weight="normal" fill="#1b1b1b" textLength="46.1" lengthAdjust="spacingAndGlyphs"  stroke="#1b1b1b" stroke-width="0.42">REASON</text>
<text x="443.3" y="278.3" font-size="16.5" font-weight="normal" fill="#1b1b1b" textLength="59.7" lengthAdjust="spacingAndGlyphs"  stroke="#1b1b1b" stroke-width="0.4">Operator</text>
<text x="442.8" y="332.8" font-size="16.5" font-weight="normal" fill="#1b1b1b" textLength="60.2" lengthAdjust="spacingAndGlyphs"  stroke="#1b1b1b" stroke-width="0.4">Engineer</text>
<text x="442.8" y="386.3" font-size="16.5" font-weight="normal" fill="#1b1b1b" textLength="44.4" lengthAdjust="spacingAndGlyphs"  stroke="#1b1b1b" stroke-width="0.4">Admin</text>
<text x="594" y="399.9" font-size="14" font-weight="normal" fill="#1b1b1b" textLength="52.0" lengthAdjust="spacingAndGlyphs"  stroke="#1b1b1b" stroke-width="0.42">persistent</text>
<text x="752.4" y="330.1" font-size="13.5" font-weight="normal" fill="#1b1b1b" textLength="71.8" lengthAdjust="spacingAndGlyphs"  stroke="#1b1b1b" stroke-width="0.42">FIELD AUDIT</text>
<text x="759.2" y="345.6" font-size="13.5" font-weight="normal" fill="#1b1b1b" textLength="58.8" lengthAdjust="spacingAndGlyphs"  stroke="#1b1b1b" stroke-width="0.42">EVIDENCE</text>
<text x="653.2" y="398.2" font-size="8.8" font-weight="bold" fill="#1b1b1b" textLength="29.3" lengthAdjust="spacingAndGlyphs"  stroke="#1b1b1b" stroke-width="0.3">ALCOA+</text>
<text x="929" y="178.8" font-size="9.4" font-weight="bold" fill="#1b1b1b" textLength="33.4" lengthAdjust="spacingAndGlyphs"  stroke="#1b1b1b" stroke-width="0.35">ALCOA+</text>
</svg></body></html>
